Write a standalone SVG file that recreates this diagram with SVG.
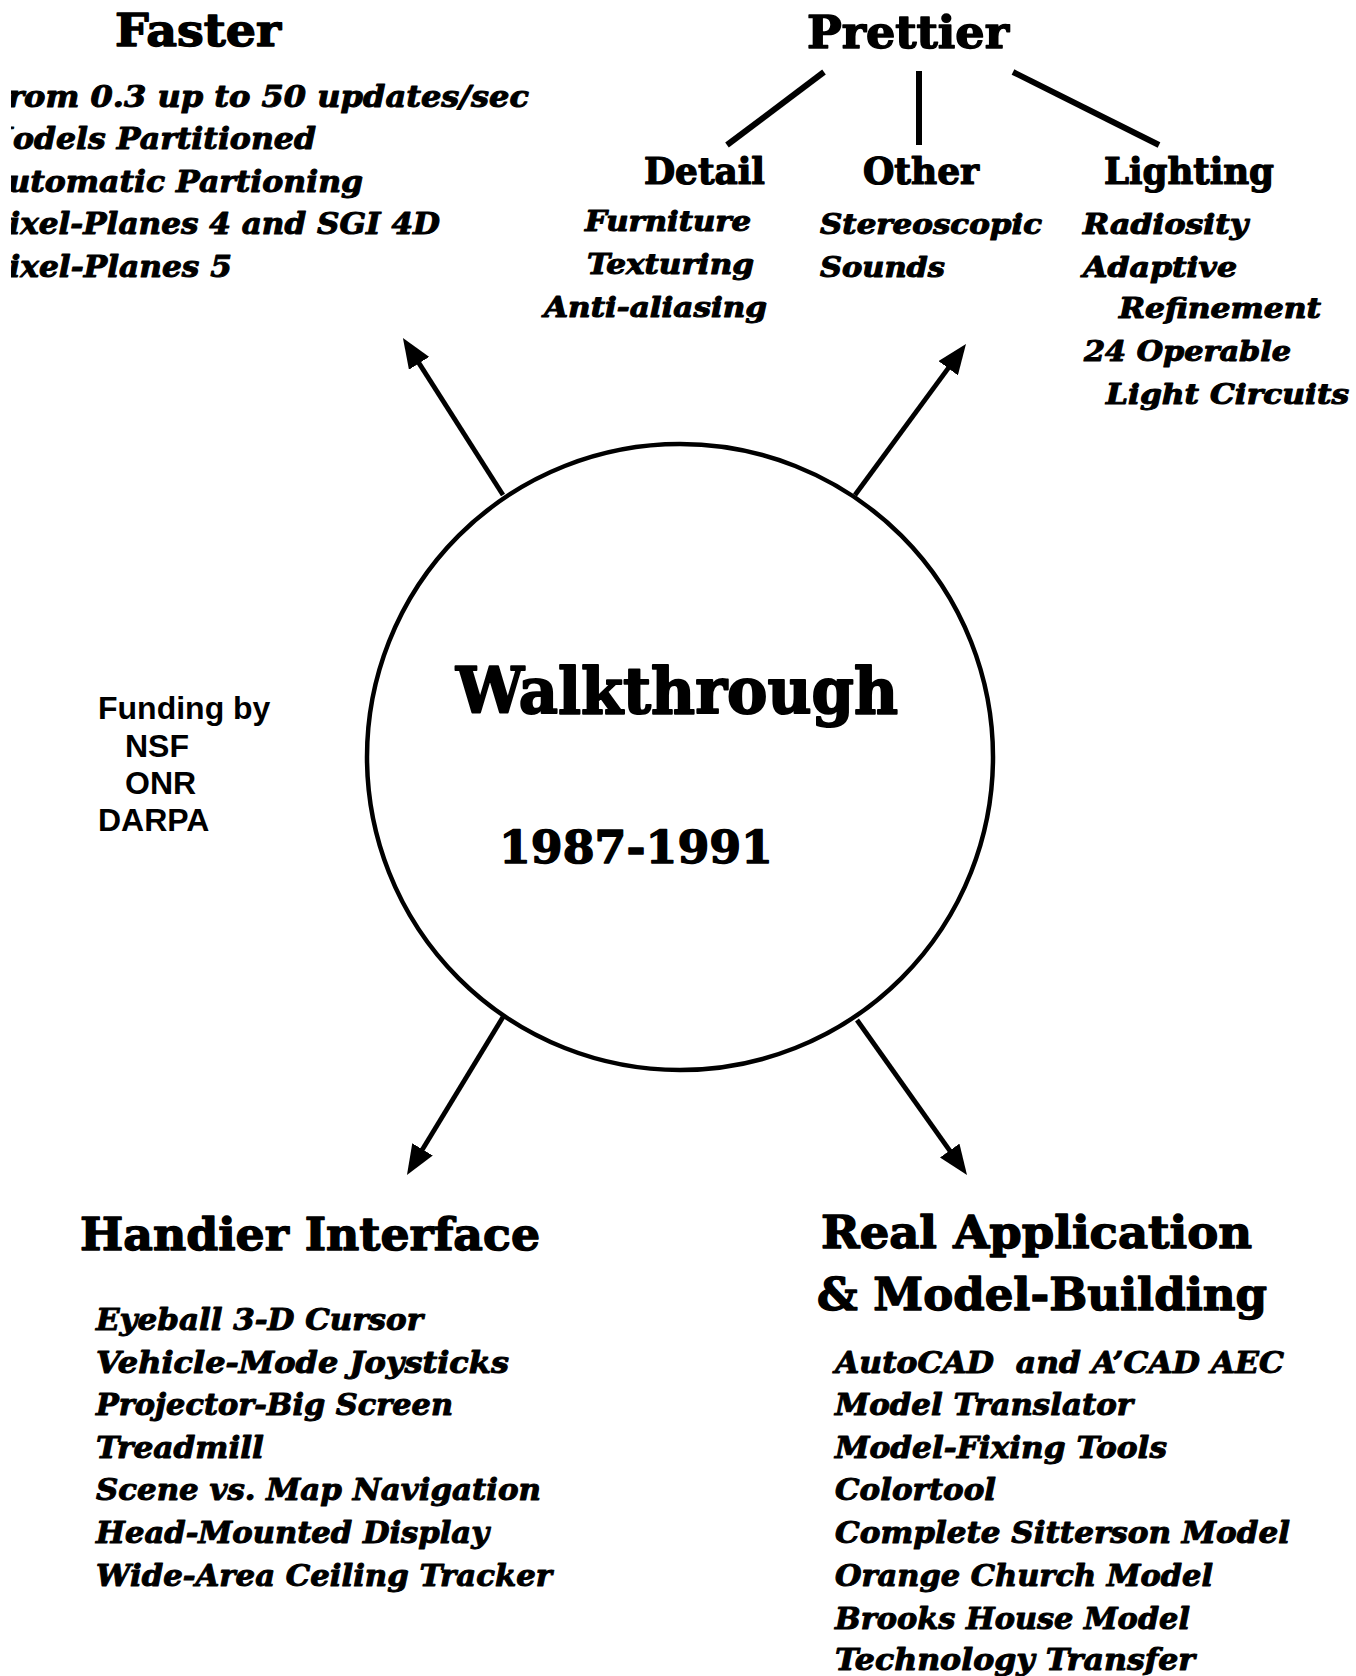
<svg xmlns="http://www.w3.org/2000/svg" width="1356" height="1676" viewBox="0 0 1356 1676">
  <style>
    .bk { font-family: "DejaVu Serif", "Liberation Serif", serif; font-weight: bold; fill: #000; stroke: #000; stroke-width: 1; stroke-linejoin: round; }
    .it { font-style: italic; }
    .cn { font-stretch: condensed; }
    .t1 { font-size: 45px; stroke-width: 1.4; }
    .t2 { font-size: 37px; stroke-width: 1.2; }
    .itm { font-size: 29px; }
    .sm { font-size: 28px; }
    .big { font-size: 64px; stroke-width: 2; }
    .yr { font-size: 45px; stroke-width: 1.4; }
    .sans { font-family: "Liberation Sans", Arial, sans-serif; font-weight: bold; font-size: 32px; fill: #000; }
    .wire { stroke: #000; fill: none; }
  </style>
  <defs>
    <marker id="head" viewBox="0 0 30 24" markerWidth="30" markerHeight="24" refX="2" refY="12" orient="auto" markerUnits="userSpaceOnUse">
      <path d="M0,0 L30,12 L0,24 Z" fill="#000"/>
    </marker>
    <!-- the Faster list runs past the left edge of the sheet -->
    <clipPath id="sheet-left">
      <rect x="11" y="0" width="700" height="320"/>
    </clipPath>
  </defs>
  <rect width="1356" height="1676" fill="#fff"/>

  <!-- central node -->
  <g id="walkthrough">
    <circle cx="680" cy="757" r="313" class="wire" stroke-width="4.5"/>
    <text class="bk big" x="456" y="713" textLength="442" lengthAdjust="spacingAndGlyphs">Walkthrough</text>
    <text class="bk yr" x="499" y="863" textLength="274" lengthAdjust="spacingAndGlyphs">1987-1991</text>
  </g>

  <!-- arrows from the centre and the Prettier tree lines -->
  <g id="connectors" class="wire">
    <line x1="503" y1="495" x2="418" y2="361.6" stroke-width="4.8" marker-end="url(#head)"/>
    <line x1="855" y1="495" x2="949.4" y2="366.6" stroke-width="4.8" marker-end="url(#head)"/>
    <line x1="503" y1="1017" x2="421.5" y2="1151.1" stroke-width="4.8" marker-end="url(#head)"/>
    <line x1="857" y1="1020" x2="950.8" y2="1152.2" stroke-width="4.8" marker-end="url(#head)"/>
    <line x1="824" y1="72" x2="727" y2="145" stroke-width="6"/>
    <line x1="919" y1="71" x2="919" y2="145" stroke-width="6"/>
    <line x1="1013" y1="72" x2="1159" y2="145" stroke-width="6"/>
  </g>

  <g id="faster">
    <text class="bk t1" x="115" y="46" textLength="166" lengthAdjust="spacingAndGlyphs">Faster</text>
    <g clip-path="url(#sheet-left)">
      <text class="bk it itm" x="-15" y="107" textLength="544" lengthAdjust="spacingAndGlyphs">From 0.3 up to 50 updates/sec</text>
      <text class="bk it itm" x="-22" y="149" textLength="338" lengthAdjust="spacingAndGlyphs">Models Partitioned</text>
      <text class="bk it itm" x="-17" y="192" textLength="380" lengthAdjust="spacingAndGlyphs">Automatic Partioning</text>
      <text class="bk it itm" x="-15" y="234" textLength="455" lengthAdjust="spacingAndGlyphs">Pixel-Planes 4 and SGI 4D</text>
      <text class="bk it itm" x="-15" y="277" textLength="247" lengthAdjust="spacingAndGlyphs">Pixel-Planes 5</text>
    </g>
  </g>

  <g id="prettier">
    <text class="bk cn t1" x="807" y="48" textLength="202" lengthAdjust="spacingAndGlyphs">Prettier</text>
  </g>

  <g id="detail">
    <text class="bk cn t2" x="644" y="184" textLength="121" lengthAdjust="spacingAndGlyphs">Detail</text>
    <text class="bk cn it sm" x="585" y="231" textLength="166" lengthAdjust="spacingAndGlyphs">Furniture</text>
    <text class="bk cn it sm" x="587" y="274" textLength="167" lengthAdjust="spacingAndGlyphs">Texturing</text>
    <text class="bk cn it sm" x="544" y="317" textLength="223" lengthAdjust="spacingAndGlyphs">Anti-aliasing</text>
  </g>

  <g id="other">
    <text class="bk cn t2" x="863" y="184" textLength="116" lengthAdjust="spacingAndGlyphs">Other</text>
    <text class="bk cn it sm" x="820" y="234" textLength="222" lengthAdjust="spacingAndGlyphs">Stereoscopic</text>
    <text class="bk cn it sm" x="820" y="277" textLength="125" lengthAdjust="spacingAndGlyphs">Sounds</text>
  </g>

  <g id="lighting">
    <text class="bk cn t2" x="1104" y="184" textLength="170" lengthAdjust="spacingAndGlyphs">Lighting</text>
    <text class="bk cn it sm" x="1083" y="234" textLength="165" lengthAdjust="spacingAndGlyphs">Radiosity</text>
    <text class="bk cn it sm" x="1083" y="277" textLength="154" lengthAdjust="spacingAndGlyphs">Adaptive</text>
    <text class="bk cn it sm" x="1119" y="318" textLength="202" lengthAdjust="spacingAndGlyphs">Refinement</text>
    <text class="bk cn it sm" x="1084" y="361" textLength="207" lengthAdjust="spacingAndGlyphs">24 Operable</text>
    <text class="bk cn it sm" x="1106" y="404" textLength="243" lengthAdjust="spacingAndGlyphs">Light Circuits</text>
  </g>

  <g id="funding">
    <text class="sans" x="98" y="719">Funding by</text>
    <text class="sans" x="125" y="757">NSF</text>
    <text class="sans" x="125" y="794">ONR</text>
    <text class="sans" x="98" y="831">DARPA</text>
  </g>

  <g id="handier-interface">
    <text class="bk t1" x="80" y="1250" textLength="460" lengthAdjust="spacingAndGlyphs">Handier Interface</text>
    <text class="bk it itm" x="96" y="1330" textLength="327" lengthAdjust="spacingAndGlyphs">Eyeball 3-D Cursor</text>
    <text class="bk it itm" x="96" y="1373" textLength="413" lengthAdjust="spacingAndGlyphs">Vehicle-Mode Joysticks</text>
    <text class="bk it itm" x="96" y="1415" textLength="357" lengthAdjust="spacingAndGlyphs">Projector-Big Screen</text>
    <text class="bk it itm" x="96" y="1458" textLength="168" lengthAdjust="spacingAndGlyphs">Treadmill</text>
    <text class="bk it itm" x="96" y="1500" textLength="445" lengthAdjust="spacingAndGlyphs">Scene vs. Map Navigation</text>
    <text class="bk it itm" x="96" y="1543" textLength="393" lengthAdjust="spacingAndGlyphs">Head-Mounted Display</text>
    <text class="bk it itm" x="96" y="1586" textLength="456" lengthAdjust="spacingAndGlyphs">Wide-Area Ceiling Tracker</text>
  </g>

  <g id="real-application">
    <text class="bk t1" x="821" y="1248" textLength="431" lengthAdjust="spacingAndGlyphs">Real Application</text>
    <text class="bk t1" x="817" y="1310" textLength="450" lengthAdjust="spacingAndGlyphs">&amp; Model-Building</text>
    <text class="bk it itm" x="835" y="1373" textLength="449" lengthAdjust="spacingAndGlyphs" xml:space="preserve">AutoCAD  and A’CAD AEC</text>
    <text class="bk it itm" x="835" y="1415" textLength="298" lengthAdjust="spacingAndGlyphs">Model Translator</text>
    <text class="bk it itm" x="835" y="1458" textLength="332" lengthAdjust="spacingAndGlyphs">Model-Fixing Tools</text>
    <text class="bk it itm" x="835" y="1500" textLength="161" lengthAdjust="spacingAndGlyphs">Colortool</text>
    <text class="bk it itm" x="835" y="1543" textLength="455" lengthAdjust="spacingAndGlyphs">Complete Sitterson Model</text>
    <text class="bk it itm" x="835" y="1586" textLength="378" lengthAdjust="spacingAndGlyphs">Orange Church Model</text>
    <text class="bk it itm" x="835" y="1629" textLength="355" lengthAdjust="spacingAndGlyphs">Brooks House Model</text>
    <text class="bk it itm" x="835" y="1670" textLength="360" lengthAdjust="spacingAndGlyphs">Technology Transfer</text>
  </g>
</svg>
